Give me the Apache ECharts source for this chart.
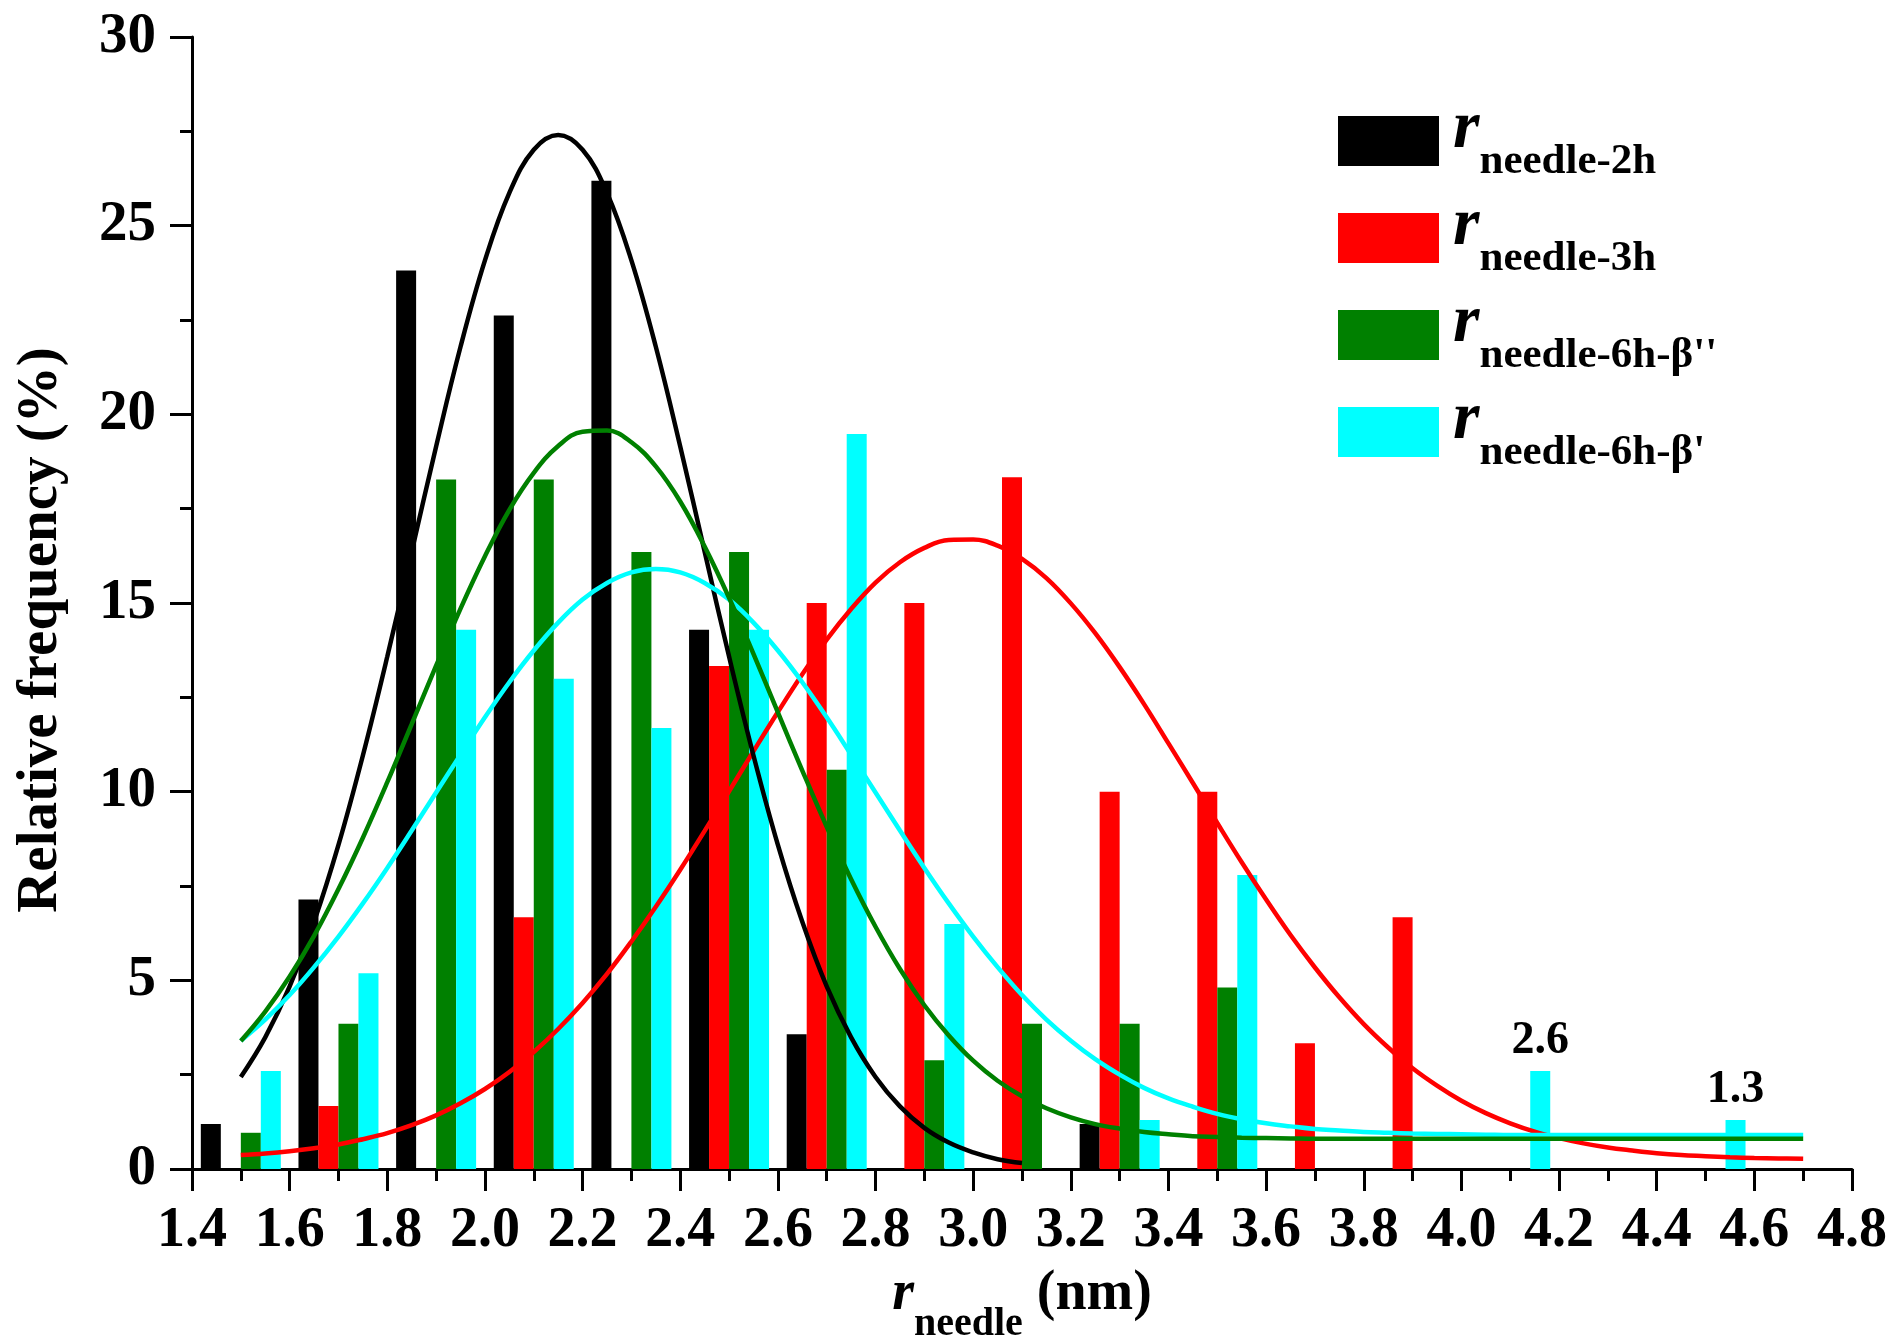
<!DOCTYPE html>
<html><head><meta charset="utf-8">
<script src="https://cdn.jsdelivr.net/npm/echarts@6/dist/echarts.min.js"></script>
<style>html,body{margin:0;padding:0;background:#fff}#c{width:1900px;height:1339px}</style>
</head><body><div id="c"></div>
<script>
// ---- data ----
const bins = [1.5,1.7,1.9,2.1,2.3,2.5,2.7,2.9,3.1,3.3,3.5,3.7,3.9,4.1,4.3,4.5];
const freq2h   = [1.19,7.14,23.81,22.62,26.19,14.29,3.57,null,null,1.19,null,null,null,null,null,null];
const freq3h   = [null,1.67,null,6.67,null,13.33,15.00,15.00,18.33,10.00,10.00,3.33,6.67,null,null,null];
const freq6hB2 = [0.96,3.85,18.27,18.27,16.35,16.35,10.58,2.88,3.85,3.85,4.81,null,null,null,null,null];
const freq6hB1 = [2.60,5.19,14.29,12.99,11.69,14.29,19.48,6.49,null,1.30,7.79,null,null,2.60,null,1.30];
const labelledBins = [4.1,4.5];

const fitX = [1.50,1.55,1.60,1.65,1.70,1.75,1.80,1.85,1.90,1.95,2.00,2.05,2.10,2.15,2.20,2.25,2.30,2.35,2.40,2.45,
  2.50,2.55,2.60,2.65,2.70,2.75,2.80,2.85,2.90,2.95,3.00,3.05,3.10,3.15,3.20,3.25,3.30,3.35,3.40,3.45,
  3.50,3.55,3.60,3.65,3.70,3.75,3.80,3.85,3.90,3.95,4.00,4.05,4.10,4.15,4.20,4.25,4.30,4.35,4.40,4.45,
  4.50,4.55,4.60,4.65,4.70];
const fit2h = [2.44,3.49,4.84,6.55,8.59,10.96,13.58,16.36,19.15,21.79,24.08,25.87,27.01,27.40,27.01,25.87,24.08,21.79,19.15,16.36,
  13.58,10.96,8.59,6.55,4.84,3.49,2.44,1.66,1.09,0.70,0.44,0.26,0.16];
const fit3h = [0.37,0.41,0.47,0.55,0.65,0.79,0.95,1.16,1.42,1.74,2.12,2.57,3.10,3.71,4.40,5.17,6.03,6.95,7.93,8.96,
  10.01,11.07,12.11,13.11,14.03,14.84,15.54,16.08,16.46,16.67,16.68,16.52,16.17,15.66,14.99,14.20,13.30,12.32,11.28,10.23,
  9.17,8.13,7.14,6.20,5.34,4.55,3.84,3.22,2.67,2.21,1.81,1.48,1.21,0.99,0.82,0.68,0.57,0.49,0.42,0.37,
  0.34,0.31,0.29,0.28,0.27];
const fit6hB2 = [3.39,4.17,5.10,6.18,7.42,8.78,10.25,11.79,13.34,14.85,16.24,17.47,18.45,19.16,19.54,19.57,19.26,18.62,17.69,16.50,
  15.14,13.65,12.10,10.56,9.07,7.68,6.42,5.30,4.34,3.54,2.87,2.34,1.93,1.61,1.37,1.19,1.07,0.98,0.92,0.87,
  0.85,0.83,0.82,0.81,0.80,0.80,0.80,0.80,0.80,0.80,0.80,0.80,0.80,0.80,0.80,0.80,0.80,0.80,0.80,0.80,
  0.80,0.80,0.80,0.80,0.80];
const fit6hB1 = [3.40,3.96,4.61,5.35,6.16,7.04,7.98,8.97,9.98,10.98,11.97,12.90,13.74,14.48,15.09,15.53,15.81,15.90,15.81,15.53,
  15.09,14.48,13.74,12.90,11.97,10.98,9.98,8.97,7.98,7.04,6.16,5.35,4.61,3.96,3.40,2.91,2.50,2.15,1.87,1.65,
  1.46,1.32,1.21,1.13,1.06,1.02,0.98,0.96,0.94,0.93,0.92,0.91,0.90,0.90,0.90,0.90,0.90,0.90,0.90,0.90,
  0.90,0.90,0.90,0.90,0.90];
const xTicks = {min:1.4, max:4.8, step:0.2};
const yTicks = {min:0, max:30, step:5};
const seriesNames = ["needle-2h","needle-3h","needle-6h-β''","needle-6h-β'"];

// ---- chart ----
const FONT = '"Liberation Serif","Times New Roman",serif';
const colors = ['#000000','#ff0000','#008000','#00ffff'];
const barSets = [freq2h, freq3h, freq6hB2, freq6hB1];
const fitSets = [fit2h, fit3h, fit6hB2, fit6hB1];

function barPairs(ys, withLabels){
  const out=[];
  ys.forEach((y,i)=>{
    if(y===null) return;
    const item = {value:[bins[i], y]};
    if(withLabels && labelledBins.indexOf(bins[i])>=0){
      item.label = {show:true, position:'top', distance:7, formatter: y.toFixed(1),
        fontFamily:FONT, fontWeight:'bold', fontSize:46, color:'#000'};
    }
    out.push(item);
  });
  return out;
}
function linePairs(ys){ return ys.map((y,i)=>[fitX[i], y]); }

const series = [];
barSets.forEach((ys,k)=>{
  series.push({type:'bar', name:seriesNames[k], barWidth:20, barGap:'0%',
    itemStyle:{color:colors[k]}, data:barPairs(ys, k===3), z:2, animation:false});
});
[1,0,3,2].forEach(k=>{
  series.push({type:'line', name:'fit '+seriesNames[k], smooth:0.4, symbol:'none', showSymbol:false,
    lineStyle:{color:colors[k], width:4.5}, data:linePairs(fitSets[k]), z:5, animation:false});
});

const legendTops = [95,192,289,386];
const legends = seriesNames.map((n,k)=>({
  data:[n], left:1338, top:legendTops[k], orient:'vertical', padding:0,
  itemWidth:101, itemHeight:50, icon:'rect', selectedMode:false,
  formatter: name => '{r|r}{s|'+name+'}',
  textStyle:{rich:{
    r:{fontFamily:FONT, fontStyle:'italic', fontWeight:'bold', fontSize:68, color:'#000', verticalAlign:'top', padding:[0,0,0,9]},
    s:{fontFamily:FONT, fontWeight:'bold', fontSize:43, color:'#000', verticalAlign:'top', padding:[45,0,4,0]}
  }}
}));

const option = {
  backgroundColor:'#fff',
  animation:false,
  grid:{left:192, right:48, top:37, bottom:170, containLabel:false, outerBoundsMode:'none'},
  legend: legends,
  xAxis:{type:'value', min:xTicks.min, max:xTicks.max, interval:xTicks.step,
    axisLine:{show:true, onZero:false, lineStyle:{color:'#000', width:3}},
    axisTick:{show:true, inside:false, length:22, lineStyle:{color:'#000', width:3}},
    minorTick:{show:true, splitNumber:2, length:12, lineStyle:{color:'#000', width:3}},
    splitLine:{show:false},
    axisLabel:{margin:35, fontFamily:FONT, fontWeight:'bold', fontSize:56, color:'#000',
      formatter: v => v.toFixed(1)},
    name:'{r|r}{s|needle}{n| (nm)}', nameLocation:'middle', nameGap:98,
    nameTextStyle:{rich:{
      r:{fontFamily:FONT, fontStyle:'italic', fontWeight:'bold', fontSize:56, color:'#000', verticalAlign:'top'},
      s:{fontFamily:FONT, fontWeight:'bold', fontSize:40, color:'#000', verticalAlign:'top', padding:[38,0,0,0]},
      n:{fontFamily:FONT, fontWeight:'bold', fontSize:56, color:'#000', verticalAlign:'top'}
    }}
  },
  yAxis:{type:'value', min:yTicks.min, max:yTicks.max, interval:yTicks.step,
    axisLine:{show:true, lineStyle:{color:'#000', width:3}},
    axisTick:{show:true, inside:false, length:22, lineStyle:{color:'#000', width:3}},
    minorTick:{show:true, splitNumber:2, length:12, lineStyle:{color:'#000', width:3}},
    splitLine:{show:false},
    axisLabel:{margin:36, fontFamily:FONT, fontWeight:'bold', fontSize:57, color:'#000'},
    name:'Relative frequency (%)', nameLocation:'middle', nameGap:122,
    nameTextStyle:{fontFamily:FONT, fontWeight:'bold', fontSize:57, color:'#000', padding:[0,54,0,0]}
  },
  series: series
};
const chart = echarts.init(document.getElementById('c'), null, {renderer:'canvas', width:1900, height:1339});
chart.setOption(option);
</script>
</body></html>
